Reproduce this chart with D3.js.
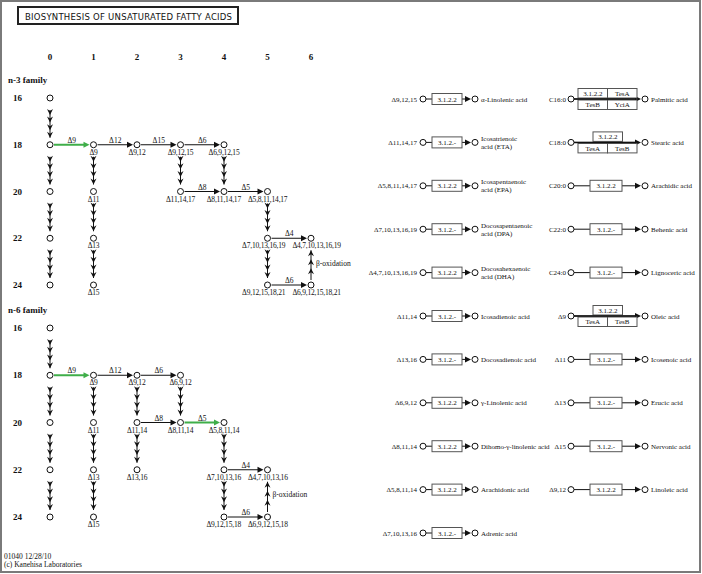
<!DOCTYPE html>
<html>
<head>
<meta charset="utf-8">
<script src="https://cdn.jsdelivr.net/npm/d3@7"></script>
<style>
  body { margin: 0; background: #fff; }
  svg { display: block; }
  text { font-family: "Liberation Serif", "Times New Roman", serif; fill: #111; }
</style>
</head>
<body>
<svg id="map"></svg>
<script>
const width = 702;
const height = 574;

// columns (number of double bonds) and chain lengths
const columns = [0, 1, 2, 3, 4, 5, 6];
const chainLengths = [16, 18, 20, 22, 24];

// n-3 family: [column, chain length, label]
const n3Nodes = [
  [0,16,""],[0,18,""],[0,20,""],[0,22,""],[0,24,""],
  [1,18,"Δ9"],[1,20,"Δ11"],[1,22,"Δ13"],[1,24,"Δ15"],
  [2,18,"Δ9,12"],
  [3,18,"Δ9,12,15"],[3,20,"Δ11,14,17"],
  [4,18,"Δ6,9,12,15"],[4,20,"Δ8,11,14,17"],
  [5,20,"Δ5,8,11,14,17"],[5,22,"Δ7,10,13,16,19"],[5,24,"Δ9,12,15,18,21"],
  [6,22,"Δ4,7,10,13,16,19"],[6,24,"Δ6,9,12,15,18,21"]
];
// desaturation steps: [from col, to col, chain length, label, highlighted]
const n3Desaturations = [
  [0,1,18,"Δ9",true],[1,2,18,"Δ12",false],[2,3,18,"Δ15",false],[3,4,18,"Δ6",false],
  [3,4,20,"Δ8",false],[4,5,20,"Δ5",false],[5,6,22,"Δ4",false],[5,6,24,"Δ6",false]
];
// elongation steps: [col, from length, to length]
const n3Elongations = [
  [0,16,18],[0,18,20],[0,20,22],[0,22,24],
  [1,18,20],[1,20,22],[1,22,24],
  [3,18,20],[4,18,20],[5,20,22],[5,22,24]
];
const n3BetaOxidation = [6, 24, 22];

// n-6 family
const n6Nodes = [
  [0,16,""],[0,18,""],[0,20,""],[0,22,""],[0,24,""],
  [1,18,"Δ9"],[1,20,"Δ11"],[1,22,"Δ13"],[1,24,"Δ15"],
  [2,18,"Δ9,12"],[2,20,"Δ11,14"],[2,22,"Δ13,16"],
  [3,18,"Δ6,9,12"],[3,20,"Δ8,11,14"],
  [4,20,"Δ5,8,11,14"],[4,22,"Δ7,10,13,16"],[4,24,"Δ9,12,15,18"],
  [5,22,"Δ4,7,10,13,16"],[5,24,"Δ6,9,12,15,18"]
];
const n6Desaturations = [
  [0,1,18,"Δ9",true],[1,2,18,"Δ12",false],[2,3,18,"Δ6",false],
  [2,3,20,"Δ8",false],[3,4,20,"Δ5",true],[4,5,22,"Δ4",false],[4,5,24,"Δ6",false]
];
const n6Elongations = [
  [0,16,18],[0,18,20],[0,20,22],[0,22,24],
  [1,18,20],[1,20,22],[1,22,24],
  [2,18,20],[2,20,22],[3,18,20],[4,20,22],[4,22,24]
];
const n6BetaOxidation = [5, 24, 22];

// thioesterase reactions, left block
const leftSubstrates = ["Δ9,12,15","Δ11,14,17","Δ5,8,11,14,17","Δ7,10,13,16,19","Δ4,7,10,13,16,19",
  "Δ11,14","Δ13,16","Δ6,9,12","Δ8,11,14","Δ5,8,11,14","Δ7,10,13,16"];
const leftEnzymes = ["3.1.2.2","3.1.2.-","3.1.2.2","3.1.2.-","3.1.2.2",
  "3.1.2.-","3.1.2.-","3.1.2.2","3.1.2.2","3.1.2.2","3.1.2.-"];
const leftProducts = ["α-Linolenic acid","Icosatrienoic|acid (ETA)","Icosapentaenoic|acid (EPA)",
  "Docosapentaenoic|acid (DPA)","Docosahexaenoic|acid (DHA)","Icosadienoic acid","Docosadienoic acid",
  "γ-Linolenic acid","Dihomo-γ-linolenic acid","Arachidonic acid","Adrenic acid"];

// thioesterase reactions, right block
const rightSubstrates = ["C16:0","C18:0","C20:0","C22:0","C24:0","Δ9","Δ11","Δ13","Δ15","Δ9,12"];
const rightEnzymes = [
  [["3.1.2.2","TesA"],["TesB","YciA"]],
  [["3.1.2.2"],["TesA","TesB"]],
  [["3.1.2.2"]],[["3.1.2.-"]],[["3.1.2.-"]],
  [["3.1.2.2"],["TesA","TesB"]],
  [["3.1.2.-"]],[["3.1.2.-"]],[["3.1.2.-"]],[["3.1.2.2"]]
];
const rightProducts = ["Palmitic acid","Stearic acid","Arachidic acid","Behenic acid","Lignoceric acid",
  "Oleic acid","Icosenoic acid","Erucic acid","Nervonic acid","Linoleic acid"];

const green = "#3fae49";

let svg = d3.select("#map").attr("width", width).attr("height", height);

// outer frame
svg.append("rect").attr("x", 1).attr("y", 1).attr("width", width - 3).attr("height", height - 3)
  .attr("fill", "none").attr("stroke", "#7a7a7a").attr("stroke-width", 2);

// title
svg.append("rect").attr("x", 18).attr("y", 7).attr("width", 220).attr("height", 17)
  .attr("fill", "#fff").attr("stroke", "#222").attr("stroke-width", 2);
svg.append("text").attr("x", 25).attr("y", 19.5)
  .attr("textLength", 207).attr("lengthAdjust", "spacing")
  .style("font-family", "'DejaVu Sans', sans-serif").style("font-size", "8.5px")
  .text("BIOSYNTHESIS OF UNSATURATED FATTY ACIDS");

//scales
let xScale = d3.scalePoint().domain(columns).range([50, 311]);
let n3Scale = d3.scalePoint().domain(chainLengths).range([98, 285]);
let n6Scale = d3.scalePoint().domain(chainLengths).range([328, 517]);
let rowScale = d3.scalePoint().domain(d3.range(leftSubstrates.length)).range([99, 533]);

// column header numbers
svg.append("g").selectAll("text").data(columns).join("text")
  .attr("x", d => xScale(d)).attr("y", 60).attr("text-anchor", "middle")
  .style("font-size", "9px").style("font-weight", "bold").text(d => d);

function arrowRight(g, x, y, color) {
  g.append("path").attr("d", `M${x},${y}L${x - 6},${y - 3}L${x - 6},${y + 3}Z`).attr("fill", color);
}
function arrowVertical(g, x, y, dir) {
  // dir 1 = down, -1 = up, y is the tip
  g.append("path")
    .attr("d", `M${x},${y}L${x - 3},${y - 6 * dir}L${x},${y - 4 * dir}L${x + 3},${y - 6 * dir}Z`)
    .attr("fill", "#111");
}

function drawFamily(name, yScale, nodes, desats, elongs, beta) {
  let g = svg.append("g");
  g.append("text").attr("x", 8).attr("y", yScale(16) - 15)
    .style("font-size", "9px").style("font-weight", "bold").text(name);

  g.selectAll(".rowlab").data(chainLengths).join("text")
    .attr("x", 17.5).attr("y", d => yScale(d) + 3).attr("text-anchor", "middle")
    .style("font-size", "9px").style("font-weight", "bold").text(d => d);

  // elongation chains, 4 arrowheads each
  elongs.forEach(([c, a, b]) => {
    let x = xScale(c), y1 = yScale(a), y2 = yScale(b);
    let end = y2 - 7;
    let step = (end - (y1 + 17)) / 3;
    g.append("line").attr("x1", x).attr("x2", x).attr("y1", y1 + 12).attr("y2", end)
      .attr("stroke", "#111").attr("stroke-width", 1);
    for (let k = 0; k < 4; k++) arrowVertical(g, x, end - k * step, 1);
  });

  // beta-oxidation
  let [bc, ba, bb] = beta;
  let bx = xScale(bc), by1 = yScale(ba), by2 = yScale(bb);
  g.append("line").attr("x1", bx).attr("x2", bx).attr("y1", by1 - 5).attr("y2", by2 + 12)
    .attr("stroke", "#111");
  for (let k = 0; k < 3; k++) arrowVertical(g, bx, by2 + 12 + k * 9, -1);
  g.append("text").attr("x", bx + 5).attr("y", (by1 + by2) / 2 + 4)
    .style("font-size", "7.5px").text("β-oxidation");

  // desaturation arrows
  desats.forEach(([a, b, len, lab, hi]) => {
    let x1 = xScale(a) + 4, x2 = xScale(b) - 4, y = yScale(len);
    let color = hi ? green : "#111";
    g.append("line").attr("x1", x1).attr("x2", x2 - 4).attr("y1", y).attr("y2", y)
      .attr("stroke", color).attr("stroke-width", hi ? 2 : 1);
    arrowRight(g, x2, y, color);
    g.append("text").attr("x", (x1 + x2) / 2).attr("y", y - 2).attr("text-anchor", "middle")
      .style("font-size", "7.5px").text(lab);
  });

  // compound nodes
  g.selectAll("circle").data(nodes).join("circle")
    .attr("cx", d => xScale(d[0])).attr("cy", d => yScale(d[1])).attr("r", 3)
    .attr("fill", "#fff").attr("stroke", "#111").attr("stroke-width", 1);
  let labels = g.selectAll(".nlab").data(nodes.filter(d => d[2])).join("text")
    .attr("class", "nlab")
    .attr("x", d => xScale(d[0])).attr("y", d => yScale(d[1]) + 10).attr("text-anchor", "middle")
    .style("font-size", "7.5px").style("letter-spacing", "-0.2px").text(d => d[2]);

  // push apart neighbouring labels in the same row when they collide
  let items = [];
  labels.each(function(d) { items.push({ el: this, d: d, x: xScale(d[0]), w: this.getComputedTextLength() }); });
  d3.groups(items, it => it.d[1]).forEach(([len, row]) => {
    row.sort((a, b) => a.x - b.x);
    for (let i = 0; i < row.length - 1; i++) {
      let a = row[i], b = row[i + 1];
      let overlap = (a.x + a.w / 2 + 7) - (b.x - b.w / 2);
      if (overlap > 0) {
        a.x -= overlap * 0.4;
        b.x += overlap * 0.6;
        d3.select(a.el).attr("x", a.x);
        d3.select(b.el).attr("x", b.x);
      }
    }
  });
}

drawFamily("n-3 family", n3Scale, n3Nodes, n3Desaturations, n3Elongations, n3BetaOxidation);
drawFamily("n-6 family", n6Scale, n6Nodes, n6Desaturations, n6Elongations, n6BetaOxidation);

function enzymeBox(g, x, y, w, h, label) {
  g.append("rect").attr("x", x).attr("y", y).attr("width", w).attr("height", h)
    .attr("fill", "#fff").attr("stroke", "#555").attr("stroke-width", 1);
  g.append("text").attr("x", x + w / 2).attr("y", y + h / 2 + 2.5).attr("text-anchor", "middle")
    .style("font-size", "7px").text(label);
}

function productText(g, x, y, label) {
  let parts = label.split("|");
  let t = g.append("text").attr("x", x).attr("y", y + 2.5 - (parts.length - 1) * 4)
    .style("font-size", "7px");
  parts.forEach((p, i) => t.append("tspan").attr("x", x).attr("dy", i ? 8 : 0).text(p));
}

// left block of thioesterase reactions
let left = svg.append("g");
leftSubstrates.forEach((s, i) => {
  let y = rowScale(i);
  left.append("text").attr("x", 417).attr("y", y + 2.5).attr("text-anchor", "end")
    .style("font-size", "7px").text(s);
  left.append("line").attr("x1", 426).attr("x2", 466).attr("y1", y).attr("y2", y).attr("stroke", "#111");
  arrowRight(left, 471, y, "#111");
  enzymeBox(left, 432, y - 5.5, 30, 11, leftEnzymes[i]);
  left.append("circle").attr("cx", 423).attr("cy", y).attr("r", 3).attr("fill", "#fff").attr("stroke", "#111");
  left.append("circle").attr("cx", 475).attr("cy", y).attr("r", 3).attr("fill", "#fff").attr("stroke", "#111");
  productText(left, 481, y, leftProducts[i]);
});

// right block
let right = svg.append("g");
rightSubstrates.forEach((s, i) => {
  let y = rowScale(i);
  right.append("text").attr("x", 566).attr("y", y + 2.5).attr("text-anchor", "end")
    .style("font-size", "7px").text(s);
  right.append("line").attr("x1", 574).attr("x2", 636).attr("y1", y).attr("y2", y).attr("stroke", "#111");
  arrowRight(right, 641, y, "#111");
  let rows = rightEnzymes[i];
  if (rows.length === 1) {
    enzymeBox(right, 590, y - 5.5, 32, 11, rows[0][0]);
  } else {
    rows.forEach((r, ri) => {
      let by = ri === 0 ? y - 10.5 : y + 1;
      let cw = 29.5;
      let x0 = r.length === 1 ? 593 : 578;
      r.forEach((lab, ci) => enzymeBox(right, x0 + ci * cw, by, cw, 9.5, lab));
    });
    right.append("line").attr("x1", 574).attr("x2", 636).attr("y1", y).attr("y2", y)
      .attr("stroke", "#111").attr("stroke-width", 1.5);
  }
  right.append("circle").attr("cx", 571).attr("cy", y).attr("r", 3).attr("fill", "#fff").attr("stroke", "#111");
  right.append("circle").attr("cx", 645).attr("cy", y).attr("r", 3).attr("fill", "#fff").attr("stroke", "#111");
  productText(right, 651, y, rightProducts[i]);
});

// footer
svg.append("text").attr("x", 4).attr("y", 559).style("font-size", "7.5px").text("01040 12/28/10");
svg.append("text").attr("x", 4).attr("y", 567).style("font-size", "7.5px").text("(c) Kanehisa Laboratories");
</script>
</body>
</html>
